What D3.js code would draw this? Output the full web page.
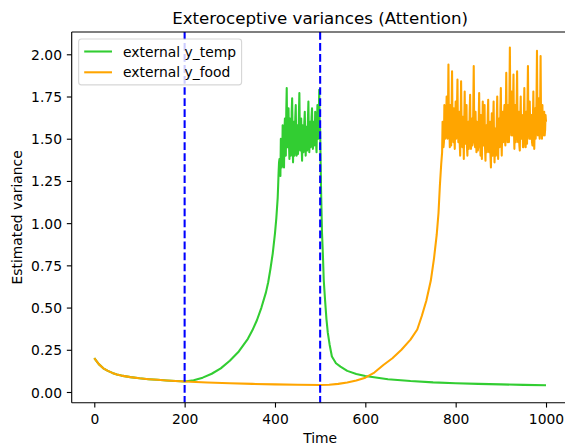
<!DOCTYPE html>
<html><head><meta charset="utf-8">
<script src="https://cdn.jsdelivr.net/npm/d3@7"></script>
<style>
body{margin:0;background:#fff}
svg{display:block}
text{font-family:"DejaVu Sans",sans-serif;fill:#000}
</style></head>
<body><svg id="c" width="565" height="447"></svg>
<script>
// ---- data ----
const xTicks = [0,200,400,600,800,1000];
const yTicks = [0,0.25,0.5,0.75,1.0,1.25,1.5,1.75,2.0];
const markers = [200,500];
const seriesNames = ["external y_temp","external y_food"];

// shared initial decay (both series)
const decayTime  = [0,10,20,30,40,50,60,80,100,120,140,160,180,200];
const decayValue = [0.200,0.165,0.140,0.125,0.113,0.104,0.097,0.088,0.081,0.076,0.072,0.068,0.065,0.062];

// external y_temp
const tempRiseTime  = [220,240,260,280,300,320,340,350,360,370,380,385,390,395,400,403];
const tempRiseValue = [0.070,0.085,0.108,0.140,0.185,0.240,0.315,0.365,0.425,0.500,0.590,0.650,0.730,0.820,0.940,1.030];
const tempNoiseStart = 406, tempNoiseStep = 1;
const tempNoiseValue = [1.15,1.22,1.30,1.36,1.38,1.31,1.28,1.50,1.45,1.33,
  1.35,1.58,1.52,1.38,1.33,1.55,1.62,1.44,1.40,1.66,
  1.80,1.52,1.45,1.60,1.68,1.47,1.38,1.62,1.55,1.40,
  1.42,1.66,1.74,1.50,1.36,1.54,1.60,1.40,1.45,1.63,
  1.70,1.48,1.40,1.52,1.58,1.41,1.48,1.65,1.77,1.55,
  1.43,1.50,1.62,1.45,1.37,1.58,1.55,1.42,1.50,1.60,
  1.66,1.50,1.40,1.52,1.57,1.43,1.46,1.62,1.72,1.50,
  1.42,1.55,1.60,1.45,1.50,1.63,1.68,1.48,1.44,1.60,
  1.58,1.46,1.48,1.66,1.62,1.47,1.42,1.58,1.70,1.52,
  1.50,1.64,1.79,1.60,1.55];
const tempDecayTime  = [502,504,506,508,511,514,517,521,526,535,545,560,580,600,650,700,750,800,850,900,950,1000];
const tempDecayValue = [1.20,0.95,0.82,0.66,0.54,0.43,0.35,0.28,0.21,0.17,0.15,0.125,0.107,0.095,0.076,0.065,0.057,0.052,0.048,0.045,0.042,0.040];

// external y_food
const foodMidTime  = [250,300,350,400,450,500,520,540,560,580,600,620,640,660,680,700,715,725,735,745,752,758,762,765,768];
const foodMidValue = [0.056,0.052,0.048,0.045,0.043,0.041,0.043,0.048,0.056,0.068,0.085,0.115,0.16,0.20,0.25,0.31,0.37,0.45,0.54,0.66,0.79,0.93,1.06,1.22,1.35];
const foodNoiseStart = 770, foodNoiseStep = 1;
const foodNoiseValue = [
  1.42,1.60,1.55,1.45,1.48,1.70,1.66,1.50,1.52,1.62,1.75,1.55,1.50,1.68,1.94,1.60,1.58,1.45,1.70,1.62,
  1.46,1.66,1.90,1.58,1.55,1.48,1.68,1.52,1.44,1.62,1.72,1.50,1.52,1.70,1.85,1.55,1.48,1.60,1.66,1.47,
  1.40,1.58,1.84,1.60,1.52,1.45,1.63,1.55,1.38,1.60,1.78,1.50,1.47,1.64,1.70,1.45,1.40,1.55,1.60,1.44,
  1.50,1.66,1.76,1.52,1.44,1.58,1.62,1.46,1.48,1.70,1.93,1.60,1.50,1.45,1.66,1.52,1.42,1.60,1.58,1.43,
  1.45,1.62,1.77,1.55,1.52,1.40,1.64,1.50,1.38,1.55,1.72,1.48,1.46,1.62,1.70,1.45,1.37,1.52,1.58,1.42,
  1.50,1.64,1.73,1.48,1.42,1.58,1.60,1.40,1.33,1.50,1.65,1.45,1.40,1.60,1.72,1.50,1.36,1.48,1.56,1.40,
  1.45,1.62,1.75,1.50,1.38,1.55,1.62,1.45,1.48,1.68,1.80,1.52,1.40,1.55,1.66,1.48,1.52,1.64,1.70,1.50,
  1.46,1.66,1.89,1.60,1.55,1.48,1.70,1.55,1.48,1.75,2.04,1.66,1.60,1.52,1.78,1.58,1.52,1.70,1.88,1.55,
  1.44,1.60,1.70,1.48,1.55,1.72,1.90,1.58,1.48,1.55,1.66,1.46,1.43,1.62,1.75,1.52,1.50,1.64,1.62,1.45,
  1.45,1.64,1.80,1.55,1.52,1.45,1.66,1.52,1.47,1.72,1.93,1.60,1.55,1.50,1.72,1.55,1.50,1.62,1.64,1.48,
  1.46,1.62,1.78,1.52,1.44,1.58,1.68,1.50,1.55,1.75,2.02,1.62,1.52,1.60,1.74,1.55,1.50,1.70,1.99,1.62,
  1.58,1.50,1.70,1.55,1.52,1.62,1.66,1.52,1.55,1.64,1.60];

// ---- build series ----
const zip = (ts, vs) => ts.map((t,i)=>[t, vs[i]]);
const noise = (start, step, vs) => vs.map((v,i)=>[start + i*step, v]);
const tempSeries = [].concat(zip(decayTime,decayValue), zip(tempRiseTime,tempRiseValue),
  noise(tempNoiseStart,tempNoiseStep,tempNoiseValue), zip(tempDecayTime,tempDecayValue));
const foodSeries = [].concat(zip(decayTime,decayValue), zip(foodMidTime,foodMidValue),
  noise(foodNoiseStart,foodNoiseStep,foodNoiseValue));
const colors = ["#32cd32","#ffa500"];

// ---- layout ----
const L = 71.7, R = 568.6, T = 32, B = 402.7;
const FS = 13.89;
const svg = d3.select("#c");
const x = d3.scaleLinear().domain([-50,1050]).range([L,R]);
const y = d3.scaleLinear().domain([-0.0634,2.132]).range([B,T]);

const plot = svg.append("g");
const clipId = "clp";
svg.append("defs").append("clipPath").attr("id",clipId).append("rect")
  .attr("x",L).attr("y",T).attr("width",R-L).attr("height",B-T);
plot.attr("clip-path",`url(#${clipId})`);

const line = d3.line().x(d=>x(d[0])).y(d=>y(d[1]));
[tempSeries, foodSeries].forEach((s,i)=>{
  plot.append("path").datum(s).attr("d",line).attr("fill","none")
    .attr("stroke",colors[i]).attr("stroke-width",2.08)
    .attr("stroke-linejoin","round").attr("stroke-linecap","butt");
});
markers.forEach(m=>{
  plot.append("line").attr("x1",x(m)).attr("x2",x(m)).attr("y1",T).attr("y2",B)
    .attr("stroke","#0000ff").attr("stroke-width",2.08).attr("stroke-dasharray","7.7,3.33");
});

// axes
const xAxis = d3.axisBottom(x).tickValues(xTicks).tickFormat(d3.format("d"))
  .tickSize(4.86).tickSizeOuter(0).tickPadding(6.5);
const gx = svg.append("g").attr("transform",`translate(0,${B})`).call(xAxis);
const yAxis = d3.axisLeft(y).tickValues(yTicks).tickFormat(d3.format(".2f"))
  .tickSize(4.86).tickSizeOuter(0).tickPadding(4.86);
const gy = svg.append("g").attr("transform",`translate(${L},0)`).call(yAxis);
[gx,gy].forEach(g=>{
  g.select(".domain").remove();
  g.selectAll(".tick line").attr("stroke","#000").attr("stroke-width",1.11);
  g.selectAll(".tick text").attr("font-size",FS).attr("font-family","DejaVu Sans").attr("fill","#000");
});
gy.selectAll(".tick text").attr("dy","0.36em");

// spines
const sp = svg.append("g").attr("stroke","#000").attr("stroke-width",1.11).attr("fill","none");
sp.append("line").attr("x1",L).attr("x2",L).attr("y1",T).attr("y2",B);
sp.append("line").attr("x1",L).attr("x2",R).attr("y1",B).attr("y2",B);
sp.append("line").attr("x1",L).attr("x2",R).attr("y1",T).attr("y2",T);
sp.append("line").attr("x1",R).attr("x2",R).attr("y1",T).attr("y2",B);

// labels
svg.append("text").attr("x",(L+R)/2).attr("y",23.5).attr("text-anchor","middle")
  .attr("font-size",16.67).text("Exteroceptive variances (Attention)");
svg.append("text").attr("x",(L+R)/2).attr("y",443).attr("text-anchor","middle")
  .attr("font-size",FS).text("Time");
svg.append("text").attr("transform",`translate(21.5,${(T+B)/2}) rotate(-90)`)
  .attr("text-anchor","middle").attr("font-size",FS).text("Estimated variance");

// legend
const lg = svg.append("g");
const lx = L + 6.94, ly = T + 6.94;
const rowH = 20.8;
const texts = seriesNames.map((n,i)=>lg.append("text")
  .attr("x",lx+5.56+27.78+11.11).attr("y",ly+5.56+7+i*rowH).attr("dy","0.36em")
  .attr("font-size",FS).text(n));
const tw = d3.max(texts, t=>t.node().getComputedTextLength());
const lw = 5.56+27.78+11.11+tw+5.56;
const lh = 5.56*2 + 14 + rowH;
lg.insert("rect","text").attr("x",lx).attr("y",ly).attr("width",lw).attr("height",lh)
  .attr("rx",2.8).attr("ry",2.8).attr("fill","#fff").attr("fill-opacity",0.8)
  .attr("stroke","#cccccc").attr("stroke-opacity",0.8).attr("stroke-width",1.11);
seriesNames.forEach((n,i)=>{
  lg.append("line").attr("x1",lx+5.56).attr("x2",lx+5.56+27.78)
    .attr("y1",ly+5.56+7+i*rowH).attr("y2",ly+5.56+7+i*rowH)
    .attr("stroke",colors[i]).attr("stroke-width",2.08);
});
</script></body></html>
